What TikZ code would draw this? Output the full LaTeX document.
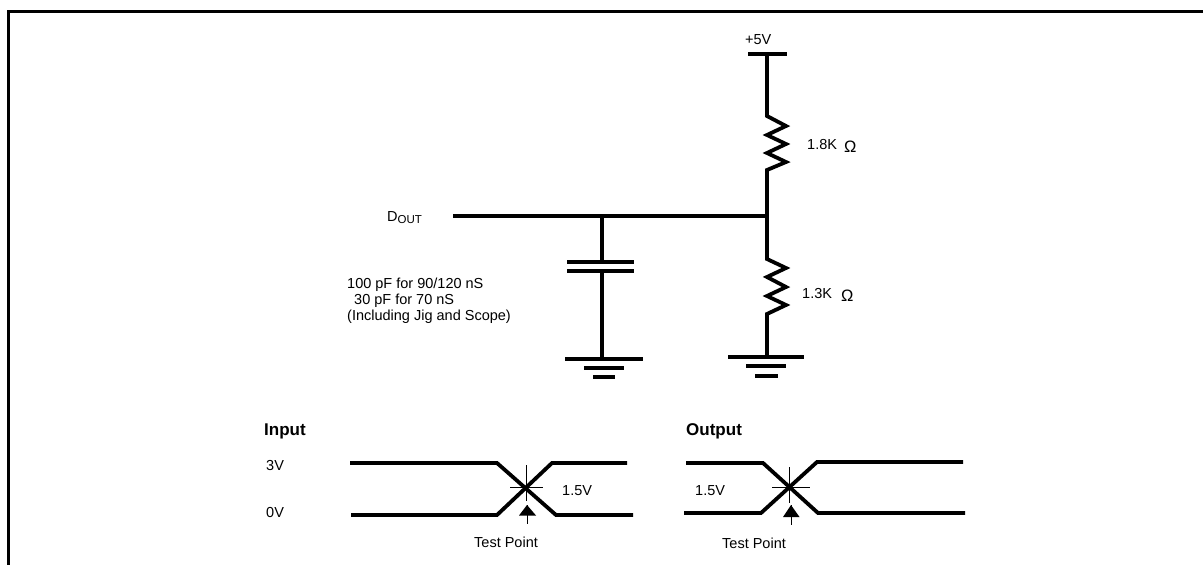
\documentclass[tikz,border=0pt]{standalone}
\usepackage{fontspec}
\setmainfont{Liberation Sans}
\tikzstyle{wire}=[line width=3.8pt]
\tikzstyle{hair}=[line width=0.7pt]
\tikzstyle{frame-line}=[line width=3pt]
\tikzstyle{small-label}=[anchor=base west, inner sep=0pt, font=\fontsize{14.5}{16}\selectfont]
\tikzstyle{ohm-label}=[anchor=base west, inner sep=0pt, font=\fontsize{16.5}{18}\selectfont]
\tikzstyle{bold-label}=[anchor=base west, inner sep=0pt, font=\fontsize{17}{19}\selectfont\bfseries]
\tikzstyle{test-arrow}=[fill=black, inner sep=0pt]
\begin{document}
\begin{tikzpicture}[x=1pt, y=-1pt]
      \useasboundingbox (0,0) rectangle (1203,565);
      % frame
      \coordinate (frame-bl) at (8.5,565);
      \coordinate (frame-tl) at (8.5,11.5);
      \coordinate (frame-tr) at (1203,11.5);
      \draw[frame-line] (frame-bl) -- (frame-tl) -- (frame-tr);

      % resistor network
      \coordinate (rail-left) at (748,54);
      \coordinate (rail-right) at (787,54);
      \coordinate (rail-mid) at (767,54);
      \coordinate (upper-top) at (767,116);
      \coordinate (upper-bot) at (767,170);
      \coordinate (join-right) at (767,216);
      \coordinate (lower-top) at (767,259);
      \coordinate (lower-bot) at (767,314);
      \coordinate (gnd-right) at (767,357);
      \coordinate (dout-end) at (453,216);
      \coordinate (join-cap) at (602,216);
      \coordinate (cap-top) at (602,262);
      \coordinate (cap-bot) at (602,271);
      \coordinate (gnd-left) at (602,359);
      \draw[wire] (rail-left) -- (rail-right);
      \draw[wire] (rail-mid) -- (upper-top)
            -- (786,126) -- (767,135) -- (786,144) -- (767,153) -- (786,162)
            -- (upper-bot) -- (join-right) -- (lower-top)
            -- (786,268) -- (767,277) -- (786,287) -- (767,296) -- (786,305)
            -- (lower-bot) -- (gnd-right);
      \draw[wire] (dout-end) -- (join-right);
      \draw[wire] (join-cap) -- (cap-top);
      \draw[wire] (cap-bot) -- (gnd-left);
      \draw[wire] (567,262) -- (634,262);
      \draw[wire] (567,271) -- (634,271);

      % grounds
      \draw[wire] (565,359) -- (643,359);
      \draw[wire] (584,368) -- (624,368);
      \draw[wire] (593,377) -- (615,377);
      \draw[wire] (728,357) -- (804,357);
      \draw[wire] (746,366) -- (786,366);
      \draw[wire] (755,376) -- (778,376);

      % circuit labels
      \node (label-vcc) at (745,44) [small-label] {+5V};
      \node (label-upper) at (807,149) [small-label] {1.8K};
      \node (label-upperohm) at (844,152) [ohm-label] {Ω};
      \node (label-lower) at (802,298) [small-label] {1.3K};
      \node (label-lowerohm) at (841,301) [ohm-label] {Ω};
      \node (label-dout) at (387,221) [small-label] {D\raisebox{-2pt}{\fontsize{11.5}{12}\selectfont OUT}};
      \node (label-load) at (347,288) [small-label] {100 pF for 90/120 nS};
      \node (label-loadb) at (354,304) [small-label] {30 pF for 70 nS};
      \node (label-loadc) at (347,320) [small-label] {(Including Jig and Scope)};

      % input waveform
      \draw[wire] (350,463) -- (497,463) -- (556,515) -- (633,515);
      \draw[wire] (351,515) -- (497,515) -- (552,463) -- (627,463);
      \draw[hair] (526,465) -- (526,501);
      \draw[hair] (510,487) -- (543,487);
      \coordinate (in-tip) at (527,505);
      \coordinate (in-tail) at (527,524);
      \draw[hair] (in-tip) -- (in-tail);
      \fill[test-arrow] (in-tip) -- (536,515.5) -- (519,515.5) -- cycle;
      \node (label-input) at (264,435) [bold-label] {Input};
      \node (label-high) at (266,470) [small-label] {3V};
      \node (label-low) at (266,517) [small-label] {0V};
      \node (label-inlevel) at (562,495) [small-label] {1.5V};
      \node (label-intest) at (474,547) [small-label] {Test Point};

      % output waveform
      \draw[wire] (686,463) -- (763,463) -- (818,513) -- (965,513);
      \draw[wire] (684,513) -- (761,513) -- (817,462) -- (963,462);
      \draw[hair] (789,467) -- (789,503);
      \draw[hair] (772,487) -- (810,487);
      \coordinate (out-tip) at (791,505);
      \coordinate (out-tail) at (791,525);
      \draw[hair] (out-tip) -- (out-tail);
      \fill[test-arrow] (out-tip) -- (799.5,517) -- (783,517) -- cycle;
      \node (label-output) at (686,435) [bold-label] {Output};
      \node (label-outlevel) at (695,495) [small-label] {1.5V};
      \node (label-outtest) at (722,548) [small-label] {Test Point};
    \end{tikzpicture}
\end{document}
